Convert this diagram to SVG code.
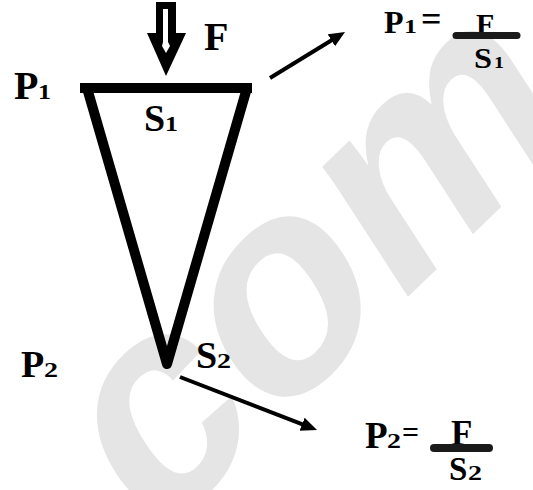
<svg xmlns="http://www.w3.org/2000/svg" width="533" height="490" viewBox="0 0 533 490">
<style>
.t{font-family:"Liberation Serif","Times New Roman",serif;font-weight:bold;fill:#000}
.wm{font-family:"Liberation Sans",Arial,sans-serif;font-weight:bold;fill:#e5e5e5}
.conn{stroke:#000;stroke-width:4;fill:none}
.bar{stroke:#1a1a1a;stroke-linecap:round;fill:none}
</style>
<defs>
<marker id="ah" markerUnits="userSpaceOnUse" markerWidth="18" markerHeight="16" refX="6" refY="7" orient="auto">
<path d="M0,0 L16,7 L0,14 z" fill="#000"/>
</marker>
</defs>
<rect width="533" height="490" fill="#fff"/>
<text class="wm" font-size="290" transform="translate(150,546) rotate(-44) skewX(-11)">com</text>

<g id="force-arrow">
<polygon points="156,2 176,2 176,33 186,33 166,76 147,33 156,33" fill="#000"/>
<polygon points="163,9 168,9 168,42 170,46 166,53 162,46 163,42" fill="#fff"/>
<text class="t" x="204" y="50" font-size="40">F</text>
</g>

<g id="cone">
<line x1="80" y1="88" x2="252" y2="88" stroke="#000" stroke-width="10"/>
<path d="M87,88 L167,364 L247,88" stroke="#000" stroke-width="10" fill="none" stroke-linejoin="round"/>
</g>

<g id="label-p1">
<text class="t" x="14" y="99" font-size="40">P</text>
<text class="t" x="38" y="99" font-size="20" textLength="13" lengthAdjust="spacingAndGlyphs">1</text>
</g>
<g id="label-s1">
<text class="t" x="144" y="131" font-size="38">S</text>
<text class="t" x="165" y="131" font-size="22" textLength="13" lengthAdjust="spacingAndGlyphs">1</text>
</g>
<g id="label-p2">
<text class="t" x="21" y="377" font-size="38">P</text>
<text class="t" x="44" y="377" font-size="21" textLength="14" lengthAdjust="spacingAndGlyphs">2</text>
</g>
<g id="label-s2">
<text class="t" x="196" y="368" font-size="38">S</text>
<text class="t" x="217" y="368" font-size="22" textLength="14" lengthAdjust="spacingAndGlyphs">2</text>
</g>

<g id="formula-1">
<text class="t" x="384" y="33" font-size="32">P</text>
<text class="t" x="404" y="33" font-size="19" textLength="13" lengthAdjust="spacingAndGlyphs">1</text>
<text class="t" x="421" y="31" font-size="36">=</text>
<text class="t" x="476" y="34" font-size="30">F</text>
<line class="bar" x1="456" y1="35.5" x2="517" y2="35.5" stroke-width="7"/>
<text class="t" x="474" y="68" font-size="29" textLength="18" lengthAdjust="spacingAndGlyphs">S</text>
<text class="t" x="494" y="68" font-size="16" textLength="10" lengthAdjust="spacingAndGlyphs">1</text>
</g>

<g id="formula-2">
<text class="t" x="365" y="448" font-size="37">P</text>
<text class="t" x="387" y="448" font-size="22" textLength="14" lengthAdjust="spacingAndGlyphs">2</text>
<text class="t" x="402" y="442" font-size="30">=</text>
<text class="t" x="451" y="445" font-size="35">F</text>
<line class="bar" x1="434" y1="448" x2="489" y2="448" stroke-width="8"/>
<text class="t" x="449" y="480" font-size="33">S</text>
<text class="t" x="468" y="480" font-size="22" textLength="14" lengthAdjust="spacingAndGlyphs">2</text>
</g>

<g id="connectors">
<line class="conn" x1="270" y1="78" x2="336.5" y2="37.2" marker-end="url(#ah)"/>
<line class="conn" x1="180" y1="377" x2="307.7" y2="426.4" marker-end="url(#ah)"/>
</g>
</svg>
